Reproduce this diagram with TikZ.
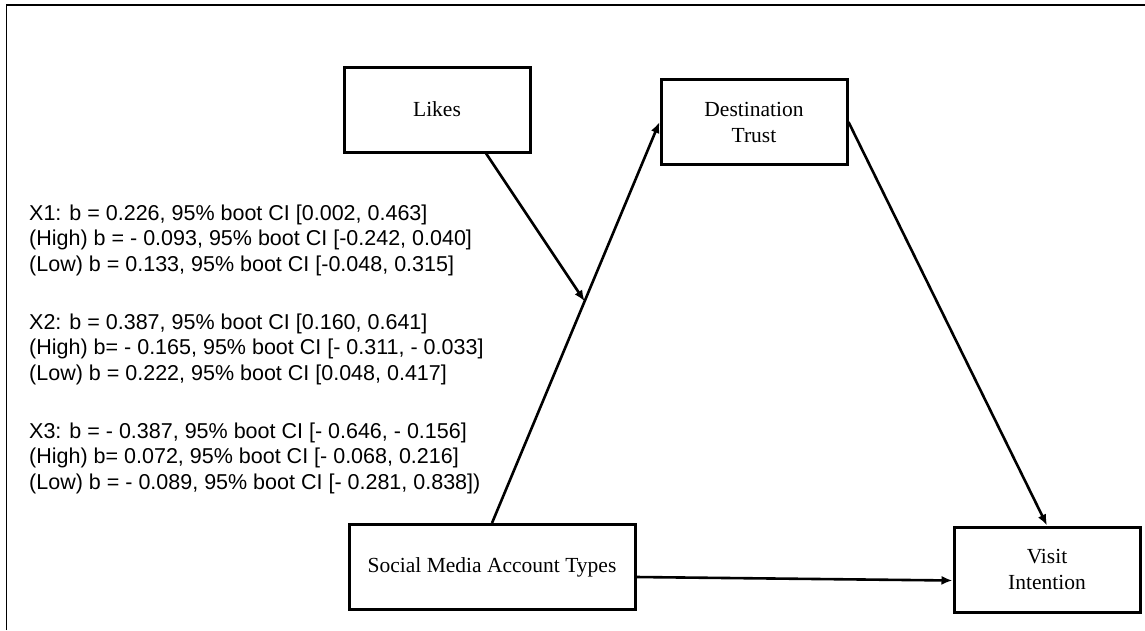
\documentclass[tikz,border=0pt]{standalone}
\usepackage{fontspec}
\setmainfont{Liberation Serif}
\newfontfamily\statfont{Liberation Sans}
\usetikzlibrary{arrows.meta,calc}

\begin{document}
\begin{tikzpicture}[x=1pt,y=-1pt,
  box/.style={draw,line width=3pt,minimum width=186pt,minimum height=85pt,
    inner sep=0pt,align=center,font=\fontsize{21.5}{26}\selectfont},
  link/.style={line width=2.6pt,-{Latex[length=11pt,width=9pt]}},
  stat/.style={anchor=base west,inner sep=0pt,
    font=\statfont\fontsize{21.5}{25.5}\selectfont}]
\useasboundingbox (0,0) rectangle (1145,630);
% frame around the figure
\draw[line width=1.6pt] (6.5,630) -- (6.5,5) -- (1145,5);

% variables
\node[box] (likes) at (437,109.5) {Likes};
\node[box] (dt) at (754,122) {Destination\\Trust};
\node[box,minimum width=286pt] (smat) at (492,567) {Social Media Account Types};
\node[box] (vi) at (1047,569.5) {Visit\\Intention};

% paths
\coordinate (mod) at ($(smat.north)!0.553!(dt.west)$);
\draw[link] (smat.north) -- (dt.west);
\draw[link] ($(likes.south west)!0.76!(likes.south east)$) -- (mod);
\draw[link] (dt.east) -- (vi.north);
\draw[link] ([yshift=-10pt]smat.east) -- ([yshift=-11pt]vi.west);

% moderated effects
\node[stat] (x1a) at (29,220) {X1: b = 0.226, 95\% boot CI [0.002, 0.463]};
\node[stat] (x1b) at (29,245.5) {(High) b = - 0.093, 95\% boot CI [-0.242, 0.040]};
\node[stat] (x1c) at (29,271) {(Low) b = 0.133, 95\% boot CI [-0.048, 0.315]};

\node[stat] (x2a) at (29,329) {X2: b = 0.387, 95\% boot CI [0.160, 0.641]};
\node[stat] (x2b) at (29,354.5) {(High) b= - 0.165, 95\% boot CI [- 0.311, - 0.033]};
\node[stat] (x2c) at (29,380) {(Low) b = 0.222, 95\% boot CI [0.048, 0.417]};

\node[stat] (x3a) at (29,438) {X3: b = - 0.387, 95\% boot CI [- 0.646, - 0.156]};
\node[stat] (x3b) at (29,463.5) {(High) b= 0.072, 95\% boot CI [- 0.068, 0.216]};
\node[stat] (x3c) at (29,489) {(Low) b = - 0.089, 95\% boot CI [- 0.281, 0.838])};
\end{tikzpicture}
\end{document}
